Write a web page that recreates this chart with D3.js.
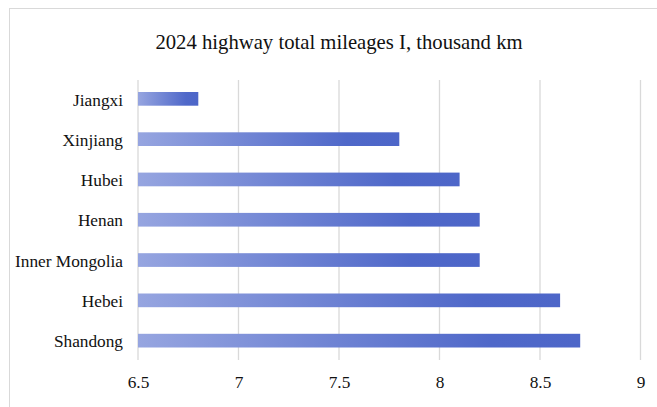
<!DOCTYPE html>
<html><head><meta charset="utf-8">
<script src="https://cdn.jsdelivr.net/npm/d3@7"></script>
<style>body{margin:0;background:#fff}svg{display:block}</style>
</head><body>
<script>
const categories = ["Jiangxi","Xinjiang","Hubei","Henan","Inner Mongolia","Hebei","Shandong"];
const values = [6.8,7.8,8.1,8.2,8.2,8.6,8.7];
const ticks = [6.5,7,7.5,8,8.5,9];
const title = "2024 highway total mileages I, thousand km";

const W=657,H=407;
const FONT='"Liberation Serif","Times New Roman",serif';
const svg=d3.select("body").append("svg").attr("width",W).attr("height",H);
svg.append("rect").attr("x",9.5).attr("y",8.5).attr("width",W).attr("height",H)
  .attr("fill","#fff").attr("stroke","#d9d9d9");
const defs=svg.append("defs");
const g=defs.append("linearGradient").attr("id","grad").attr("x1","0").attr("x2","1").attr("y1","0").attr("y2","0");
g.append("stop").attr("offset","0").attr("stop-color","#96a5e0");
g.append("stop").attr("offset","0.8").attr("stop-color","#4f68c9");
g.append("stop").attr("offset","1").attr("stop-color","#4d66c8");

const x=d3.scaleLinear().domain([6.5,9]).range([138,640.5]);
const y=d3.scaleBand().domain(categories).range([78.7,360.8]).paddingInner(0.66).paddingOuter(0.33);

svg.append("text").attr("x",339).attr("y",48.5).attr("text-anchor","middle")
  .style("font-family",FONT).attr("font-size",20.7).attr("fill","#111").text(title);

svg.append("g").selectAll("line").data(ticks).join("line")
  .attr("x1",d=>x(d)).attr("x2",d=>x(d)).attr("y1",80).attr("y2",360)
  .attr("stroke","#d9d9d9").attr("stroke-width",1.3);

svg.append("g").selectAll("rect").data(values).join("rect")
  .attr("x",x(6.5)).attr("y",(d,i)=>y(categories[i])).attr("height",y.bandwidth())
  .attr("width",d=>x(d)-x(6.5)).attr("fill","url(#grad)");

const xa=d3.axisBottom(x).tickValues(ticks).tickSize(0).tickPadding(0).tickFormat(d3.format("~g"));
const ax=svg.append("g").attr("transform","translate(0,388)").call(xa);
ax.select(".domain").remove();
ax.selectAll("text").style("font-family",FONT).attr("font-size",17.3).attr("fill","#111").attr("dy","0");

const ya=d3.axisLeft(y).tickSize(0).tickPadding(15);
const ay=svg.append("g").attr("transform","translate(138,1.2)").call(ya);
ay.select(".domain").remove();
ay.selectAll("text").style("font-family",FONT).attr("font-size",17.3).attr("fill","#111");
</script>
</body></html>
